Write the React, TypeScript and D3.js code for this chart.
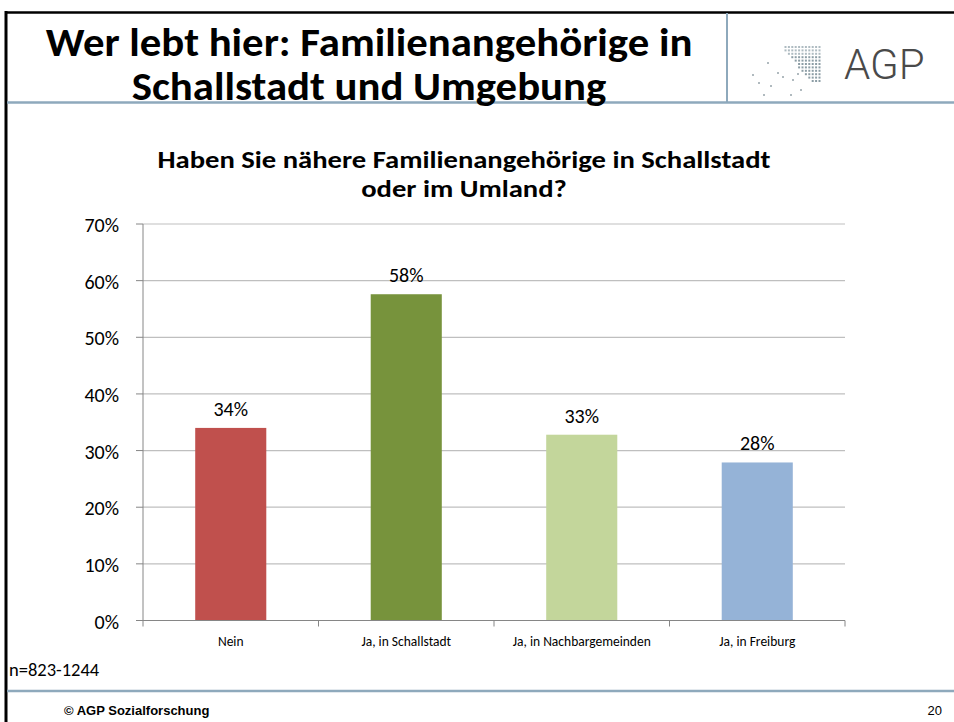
import React from "react";
import * as d3 from "d3";

const categories = ["Nein", "Ja, in Schallstadt", "Ja, in Nachbargemeinden", "Ja, in Freiburg"];
const values = [34.0, 57.6, 32.8, 27.9];
const valueLabels = ["34%", "58%", "33%", "28%"];
const colors = ["#C0504D", "#77933C", "#C3D69B", "#95B3D7"];
const yTicks = [0, 10, 20, 30, 40, 50, 60, 70];

const titleLines = ["Wer lebt hier: Familienangehörige in", "Schallstadt und Umgebung"];
const chartTitleLines = ["Haben Sie nähere Familienangehörige in Schallstadt", "oder im Umland?"];
const sampleNote = "n=823-1244";
const footerText = "© AGP Sozialforschung";
const pageNumber = "20";

const W = 954;
const H = 722;
const FONT = "Carlito, Calibri, Lato, 'Open Sans', sans-serif";

// decorative logo dot grid (upper-right triangle) and scattered dots
const logoGrid: [number, number][] = [];
for (let r = 0; r < 11; r++) {
  for (let c = 0; c < 11; c++) {
    if (c >= Math.floor(r * 0.8)) logoGrid.push([c, r]);
  }
}
const logoScatter: [number, number][] = [
  [752, 74], [763, 94], [770, 85], [767, 62], [777, 72], [782, 76], [790, 94], [800, 89], [792, 79], [797, 73], [758, 82]
];

export default function App() {
  const x = d3.scaleBand<string>().domain(categories).range([143, 845]).paddingInner(0.595).paddingOuter(0.2975);
  const xb = d3.scaleBand<string>().domain(categories).range([143, 845]);
  const y = d3.scaleLinear().domain([0, 70]).range([620.5, 224]);

  return (
    <svg width={W} height={H} style={{ position: "absolute", left: 0, top: 0, background: "#fff" }}>
      <rect width={W} height={H} fill="#fff" />
      {/* frame */}
      <line x1={5} y1={12.5} x2={W} y2={12.5} stroke="#000" strokeWidth={2.5} />
      <line x1={6} y1={11} x2={6} y2={H} stroke="#000" strokeWidth={3} />
      <line x1={727} y1={13} x2={727} y2={102} stroke="#8EA9BC" strokeWidth={2} />
      <line x1={7} y1={102.5} x2={W} y2={102.5} stroke="#8EA9BC" strokeWidth={2.5} />
      <line x1={7} y1={691} x2={W} y2={691} stroke="#8EA9BC" strokeWidth={2.5} />

      {/* title */}
      {titleLines.map((t, i) => (
        <text key={t} transform={`translate(369, ${[56, 100][i]}) scale(1.07, 1)`} textAnchor="middle" fontFamily={FONT} fontWeight="bold" fontSize={40} fill="#000">
          {t}
        </text>
      ))}

      {/* logo */}
      <g>
        {logoGrid.map(([c, r], i) => (
          <rect key={"l" + i} x={784.5 + c * 3.4} y={46 + r * 3.4} width={2} height={2} fill={r < 3 ? "#AEBBC1" : "#8C9DA5"} />
        ))}
        {logoScatter.map(([px, py], i) => (
          <rect key={"s" + i} x={px} y={py} width={2} height={2} fill="#B0BABF" />
        ))}
        <text x={844} y={79} fontFamily="Roboto, 'DejaVu Sans Condensed', sans-serif" fontWeight={300} fontSize={42} fill="#4A4A4A">
          AGP
        </text>
      </g>

      {/* chart title */}
      {chartTitleLines.map((t, i) => (
        <text key={t} transform={`translate(464, ${[168, 197][i]}) scale(1.145, 1)`} textAnchor="middle" fontFamily={FONT} fontWeight="bold" fontSize={25} fill="#000">
          {t}
        </text>
      ))}

      {/* grid */}
      {yTicks.map((t) => (
        <g key={t}>
          {t > 0 && <line x1={143} x2={845} y1={y(t)} y2={y(t)} stroke="#BFBFBF" strokeWidth={1.2} />}
          <line x1={136} x2={143} y1={y(t)} y2={y(t)} stroke="#868686" strokeWidth={1} />
          <text x={119} y={y(t) + 8} textAnchor="end" fontFamily={FONT} fontSize={20} fill="#000">
            {t}%
          </text>
        </g>
      ))}

      {/* bars */}
      {categories.map((c, i) => (
        <g key={c}>
          <rect x={x(c)!} y={y(values[i])} width={x.bandwidth()} height={y(0) - y(values[i])} fill={colors[i]} />
          <text x={x(c)! + x.bandwidth() / 2} y={y(values[i]) - 12} textAnchor="middle" fontFamily={FONT} fontSize={20} fill="#000">
            {valueLabels[i]}
          </text>
          <text x={xb(c)! + xb.bandwidth() / 2} y={646} textAnchor="middle" fontFamily={FONT} fontSize={13.5} fill="#000">
            {c}
          </text>
        </g>
      ))}

      {/* axes */}
      <line x1={143} x2={143} y1={y(70)} y2={y(0)} stroke="#868686" strokeWidth={1} />
      <line x1={143} x2={845} y1={y(0)} y2={y(0)} stroke="#868686" strokeWidth={1} />
      {[...categories.map((c) => xb(c)!), 845].map((v, i) => (
        <line key={i} x1={v} x2={v} y1={y(0)} y2={y(0) + 6} stroke="#868686" strokeWidth={1} />
      ))}

      <text x={9} y={676} fontFamily={FONT} fontSize={18.5} fill="#000">{sampleNote}</text>

      {/* footer */}
      <text x={64} y={715} fontFamily="'Liberation Sans', Arial, sans-serif" fontWeight="bold" fontSize={13} fill="#000">
        {footerText}
      </text>
      <text x={942} y={715} textAnchor="end" fontFamily="'Liberation Sans', Arial, sans-serif" fontSize={13} fill="#000">
        {pageNumber}
      </text>
    </svg>
  );
}
